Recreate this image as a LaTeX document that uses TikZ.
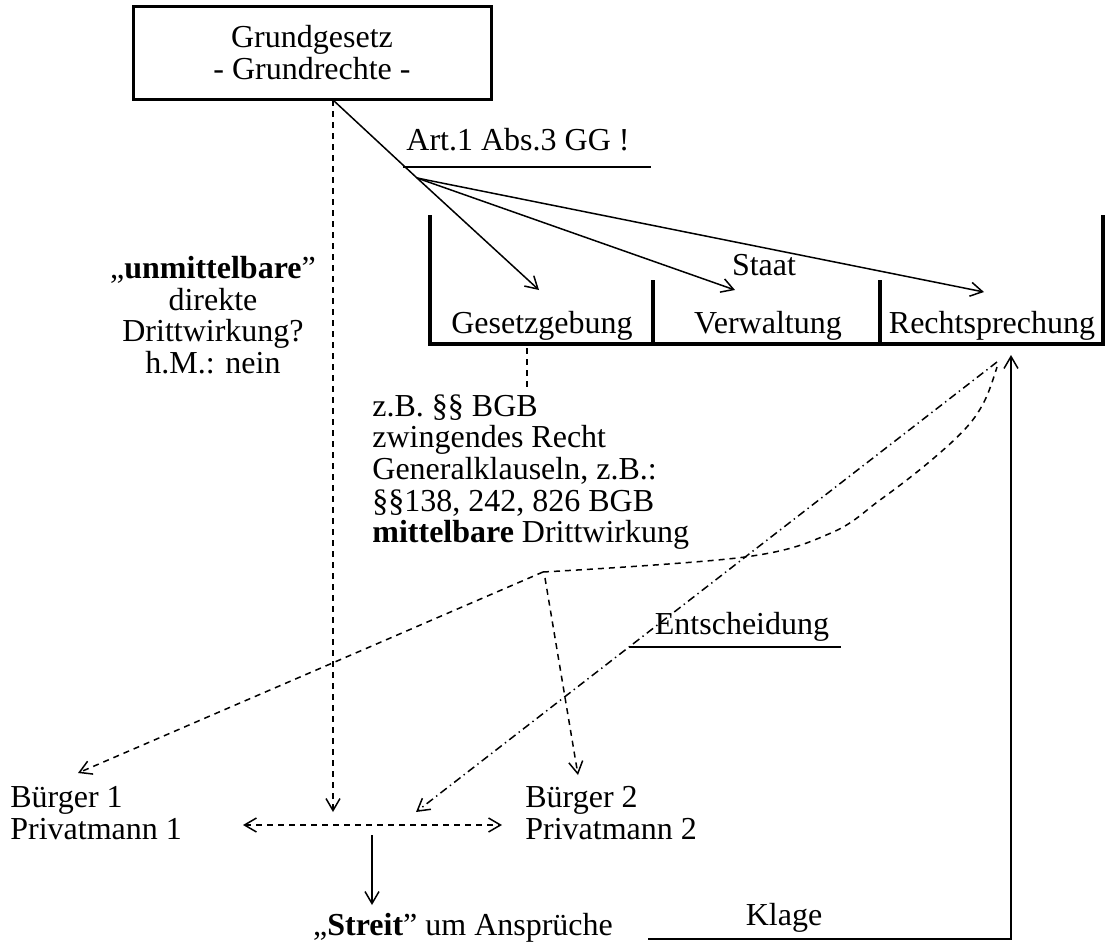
\documentclass[tikz,border=0pt]{standalone}
\usepackage{fontspec}
\setmainfont{Liberation Serif}
\usetikzlibrary{arrows.meta}

\begin{document}
\begin{tikzpicture}[x=0.5pt,y=-0.5pt,
  txt/.style={font=\fontsize{16}{15.8}\selectfont, inner sep=0pt},
  conn/.style={line width=0.75pt},
  tip/.style={-{Straight Barb[length=6pt,width=7pt,line width=0.75pt]}},
  bothtips/.style={{Straight Barb[length=6pt,width=7pt,line width=0.75pt]}-{Straight Barb[length=6pt,width=7pt,line width=0.75pt]}},
  dsh/.style={dash pattern=on 3pt off 2.5pt},
  dshdot/.style={dash pattern=on 4pt off 2pt on 0.7pt off 2pt},
  heavy/.style={line width=1.8pt},
  gbox/.style={draw, line width=1.5pt, minimum width=179pt, minimum height=46.5pt, align=center,
    font=\fontsize{16}{16}\selectfont, inner sep=0pt}]
\useasboundingbox (0,0) rectangle (1105,944);

% Grundgesetz box and its links
\node[gbox] (gg) at (312,53) {Grundgesetz\\- Grundrechte -};
\coordinate (gfoot) at (333,100);
\coordinate (fan) at (417,178);
\draw[conn] (gfoot) -- (fan);
\node[txt] (art) at (518,140) {Art.1 Abs.3 GG !};
\coordinate (artl) at (403,167);
\coordinate (artr) at (651,167);
\draw[conn] (artl) -- (artr);

% the state with its three powers
\coordinate (brTL) at (430,215);
\coordinate (brBR) at (1103,344);
\coordinate (brTR) at (1103,215);
\draw[heavy] (brTL) |- (brBR) -- (brTR);
\coordinate (d1t) at (653,280);
\coordinate (d1b) at (653,344);
\coordinate (d2t) at (880,280);
\coordinate (d2b) at (880,344);
\draw[heavy] (d1t) -- (d1b);
\draw[heavy] (d2t) -- (d2b);
\node[txt] (staat) at (764,265) {Staat};
\node[txt] (ges) at (542,326) {Gesetzgebung};
\node[txt] (verw) at (768,326) {Verwaltung};
\node[txt] (recht) at (992,326) {Rechtsprechung};

\coordinate (gesin) at (539,290);
\coordinate (verwin) at (735,290);
\coordinate (rechtin) at (984,292);
\draw[conn,tip] (fan) -- (gesin);
\draw[conn,tip] (fan) -- (verwin);
\draw[conn,tip] (fan) -- (rechtin);

% direct effect
\node[txt, align=center] (unm) at (213,315) {„\textbf{unmittelbare}”\\direkte\\Drittwirkung?\\h.M.: nein};
\coordinate (dirin) at (333,812);
\draw[conn,dsh,tip] (gfoot) -- (dirin);

% indirect effect
\coordinate (gesa) at (527,348);
\coordinate (gesb) at (527,388);
\draw[conn,dsh] (gesa) -- (gesb);
\node[txt, align=left, anchor=west] (bgb) at (372,472) {z.B. §§ BGB\\zwingendes Recht\\Generalklauseln, z.B.:\\§§138, 242, 826 BGB\\\textbf{mittelbare} Drittwirkung};

% citizens
\node[txt, align=left, anchor=west] (b1) at (10,813) {Bürger 1\\Privatmann 1};
\node[txt, align=left, anchor=west] (b2) at (525,813) {Bürger 2\\Privatmann 2};
\coordinate (pl) at (243,825);
\coordinate (pr) at (502,825);
\draw[conn,dsh,bothtips] (pl) -- (pr);

% decision of the courts
\coordinate (rfoot) at (997,362);
\coordinate (decin) at (416,812);
\draw[conn,dshdot,tip] (rfoot) -- (decin);
\node[txt] (ent) at (742,627) {Entscheidung};
\coordinate (entl) at (629,647);
\coordinate (entr) at (841,647);
\draw[conn] (entl) -- (entr);

\coordinate (knee) at (543,572);
\draw[conn,dsh] plot[smooth,tension=0.6] coordinates {(543,572) (745,557) (831,533) (880,500) (928,463) (966,428) (985,400) (997,367)};
\coordinate (b1in) at (78,773);
\coordinate (kneeb) at (545,578);
\coordinate (b2in) at (578,775);
\draw[conn,dsh,tip] (knee) -- (b1in);
\draw[conn,dsh,tip] (kneeb) -- (b2in);

% dispute and action
\coordinate (sa) at (372,835);
\coordinate (sb) at (372,905);
\draw[conn,tip] (sa) -- (sb);
\node[txt] (streit) at (463,928) {„\textbf{Streit}” um Ansprüche};
\coordinate (kl) at (648,939);
\coordinate (klin) at (1011,355);
\draw[conn,tip] (kl) -| (klin);
\node[txt] (klage) at (784,918) {Klage};
\end{tikzpicture}
\end{document}
